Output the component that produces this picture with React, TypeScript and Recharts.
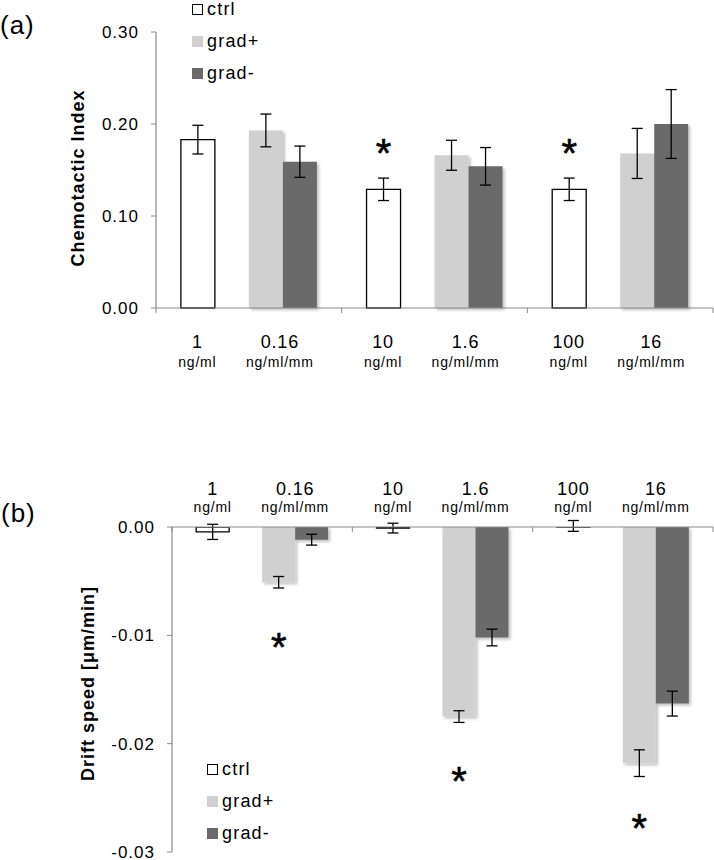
import React from 'react';
import { BarChart, Bar, XAxis, YAxis, ErrorBar, LabelList, Legend } from 'recharts';

// categories: each group holds one ctrl bar and a grad+/grad- pair
const groups = ['g1', 'g2', 'g3'];
const ctrlLabels = ['1', '10', '100'];
const gradLabels = ['0.16', '1.6', '16'];
const ctrlUnit = 'ng/ml';
const gradUnit = 'ng/ml/mm';

// (a) chemotactic index
const ciCtrl = [0.183, 0.129, 0.129];
const ciCtrlErr = [0.0156, 0.0122, 0.0122];
const ciPlus = [0.193, 0.166, 0.168];
const ciPlusErr = [0.0178, 0.0163, 0.0272];
const ciMinus = [0.159, 0.154, 0.2];
const ciMinusErr = [0.017, 0.0204, 0.0374];
const ciSig = ['', '*', '*'];
const ciTicks = [0, 0.1, 0.2, 0.3];

// (b) drift speed
const dsCtrl = [-0.00045, -0.0001, 0.0001];
const dsCtrlErr = [0.0007, 0.00045, 0.0005];
const dsPlus = [-0.0051, -0.0175, -0.0218];
const dsPlusErr = [0.00053, 0.00054, 0.00123];
const dsMinus = [-0.00117, -0.0102, -0.0163];
const dsMinusErr = [0.0005, 0.00077, 0.00115];
const dsSig = ['*', '*', '*'];
const dsTicks = [-0.03, -0.02, -0.01, 0];

const FONT = '"Liberation Sans", Arial, sans-serif';
const AXIS = '#8a8a8a';
const GREY_L = '#d0d0d0';
const GREY_D = '#6a6a6a';
const GAP = 0.134;
const STAR = 40;

const ciData = groups.map((g, i) => ({
  group: g,
  ctrl: ciCtrl[i],
  ctrlErr: ciCtrlErr[i],
  blank: null,
  plus: ciPlus[i],
  plusErr: ciPlusErr[i],
  minus: ciMinus[i],
  minusErr: ciMinusErr[i],
  sig: ciSig[i],
}));

const dsData = groups.map((g, i) => ({
  group: g,
  ctrl: dsCtrl[i],
  ctrlErr: dsCtrlErr[i],
  blank: null,
  plus: dsPlus[i],
  plusErr: dsPlusErr[i],
  minus: dsMinus[i],
  minusErr: dsMinusErr[i],
  sig: dsSig[i],
}));

const makeCatTick = (band: number, numDy: number, unitDy: number) => (props: any) => {
  const { x, y, payload } = props;
  const i = groups.indexOf(payload.value);
  const left = x - band / 2;
  const off = GAP * band;
  const w = Math.floor((band - 2 * off) / 4);
  const ctrlX = left + off + w / 2;
  const gradX = left + off + 3 * w;
  return (
    <g>
      <line x1={left} x2={left} y1={y} y2={y + 5} stroke={AXIS} />
      {i === groups.length - 1 && (
        <line x1={left + band} x2={left + band} y1={y} y2={y + 5} stroke={AXIS} />
      )}
      <text x={ctrlX} y={y + numDy} textAnchor="middle" fontSize={18} fontFamily={FONT} fill="#000" letterSpacing={0.8}>
        {ctrlLabels[i]}
      </text>
      <text x={ctrlX} y={y + unitDy} textAnchor="middle" fontSize={14} fontFamily={FONT} fill="#000" letterSpacing={0.8}>
        {ctrlUnit}
      </text>
      <text x={gradX} y={y + numDy} textAnchor="middle" fontSize={18} fontFamily={FONT} fill="#000" letterSpacing={0.8}>
        {gradLabels[i]}
      </text>
      <text x={gradX} y={y + unitDy} textAnchor="middle" fontSize={14} fontFamily={FONT} fill="#000" letterSpacing={0.8}>
        {gradUnit}
      </text>
    </g>
  );
};

const starContent = (shift: number) => (props: any) => {
  const { x, y, width, height, value } = props;
  if (!value) return null;
  const end = shift < 0 ? Math.min(y, y + height) : Math.max(y, y + height);
  const cy = end + shift;
  return (
    <text x={x + width / 2} y={cy + 0.57 * STAR} textAnchor="middle" fontSize={STAR} fontFamily={FONT} fill="#000" stroke="#000" strokeWidth={0.6}>
      {value}
    </text>
  );
};

const legendContent = (props: any) => {
  const items = (props.payload || []).filter((p: any) => p.type !== 'none');
  return (
    <div style={{ fontFamily: FONT, fontSize: 18, letterSpacing: 1.2 }}>
      {items.map((p: any) => (
        <div key={p.value} style={{ height: 32, display: 'flex', alignItems: 'center' }}>
          <span
            style={{
              display: 'inline-block',
              width: 11,
              height: 11,
              boxSizing: 'border-box',
              background: p.value === 'ctrl' ? '#fff' : p.color,
              border: p.value === 'ctrl' ? '1.3px solid #000' : 'none',
              marginRight: 4,
            }}
          />
          <span>{p.value}</span>
        </div>
      ))}
    </div>
  );
};

const tickStyle = { fontSize: 17, fill: '#000', fontFamily: FONT, letterSpacing: 1 };
const titleStyle = { textAnchor: 'middle' as const, fontSize: 18, fontWeight: 'bold' as const, fill: '#000', fontFamily: FONT, letterSpacing: 1 };

export default function App() {
  const bandA = (713 - 156) / 3;
  const bandB = (713 - 172) / 3;
  return (
    <div style={{ position: 'absolute', left: 0, top: 0, width: 714, height: 860, background: '#fff', fontFamily: FONT }}>
      <svg width={0} height={0} style={{ position: 'absolute' }}>
        <defs>
          <filter id="barShadow" x="-20%" y="-20%" width="150%" height="150%">
            <feDropShadow dx={2} dy={2} stdDeviation={1.4} floodColor="#000" floodOpacity={0.25} />
          </filter>
        </defs>
      </svg>

      <div style={{ position: 'absolute', left: 0, top: 10, fontSize: 26, letterSpacing: 1 }}>(a)</div>
      <div style={{ position: 'absolute', left: 1, top: 498, fontSize: 26, letterSpacing: 1 }}>(b)</div>

      <div style={{ position: 'absolute', left: 0, top: 0 }}>
        <BarChart width={714} height={380} data={ciData} margin={{ top: 32, right: 1, bottom: 12, left: 76 }} barCategoryGap={`${GAP * 100}%`} barGap={0}>
          <XAxis
            dataKey="group"
            height={60}
            interval={0}
            tickLine={false}
            tickSize={0}
            tickMargin={0}
            axisLine={{ stroke: AXIS, strokeWidth: 1.2 }}
            tick={makeCatTick(bandA, 40, 59)}
          />
          <YAxis
            width={80}
            domain={[0, 0.3]}
            ticks={ciTicks}
            interval={0}
            tickFormatter={(v: number) => v.toFixed(2)}
            axisLine={{ stroke: AXIS, strokeWidth: 1.2 }}
            tickLine={{ stroke: AXIS }}
            tickSize={5}
            tickMargin={12}
            tick={tickStyle}
            label={{ value: 'Chemotactic Index', angle: -90, position: 'insideLeft', offset: 0, dx: 2, dy: 8, style: titleStyle }}
          />
          <Legend
            layout="vertical"
            align="center"
            verticalAlign="middle"
            wrapperStyle={{ top: -7, left: 192, width: 120, height: 100 }}
            content={legendContent}
          />
          <Bar dataKey="ctrl" name="ctrl" fill="#fff" stroke="#000" strokeWidth={1.3} isAnimationActive={false}>
            <ErrorBar dataKey="ctrlErr" width={5.5} stroke="#000" strokeWidth={1.3} />
            <LabelList dataKey="sig" content={starContent(-45)} />
          </Bar>
          <Bar dataKey="blank" legendType="none" fill="none" isAnimationActive={false} />
          <Bar dataKey="plus" name="grad+" fill={GREY_L} filter="url(#barShadow)" isAnimationActive={false}>
            <ErrorBar dataKey="plusErr" width={5.5} stroke="#000" strokeWidth={1.3} />
          </Bar>
          <Bar dataKey="minus" name="grad-" fill={GREY_D} filter="url(#barShadow)" isAnimationActive={false}>
            <ErrorBar dataKey="minusErr" width={5.5} stroke="#000" strokeWidth={1.3} />
          </Bar>
        </BarChart>
      </div>

      <div style={{ position: 'absolute', left: 0, top: 420 }}>
        <BarChart width={714} height={440} data={dsData} margin={{ top: 57, right: 1, bottom: 8, left: 92 }} barCategoryGap={`${GAP * 100}%`} barGap={0}>
          <XAxis
            dataKey="group"
            orientation="top"
            height={50}
            interval={0}
            tickLine={false}
            tickSize={0}
            tickMargin={0}
            axisLine={{ stroke: AXIS, strokeWidth: 1.2 }}
            tick={makeCatTick(bandB, -32, -15)}
          />
          <YAxis
            width={80}
            domain={[-0.03, 0]}
            allowDataOverflow
            ticks={dsTicks}
            interval={0}
            tickFormatter={(v: number) => v.toFixed(2)}
            axisLine={{ stroke: AXIS, strokeWidth: 1.2 }}
            tickLine={{ stroke: AXIS }}
            tickSize={5}
            tickMargin={12}
            tick={tickStyle}
            label={{ value: 'Drift speed [μm/min]', angle: -90, position: 'insideLeft', offset: 0, dx: -4, dy: -6, style: titleStyle }}
          />
          <Legend
            layout="vertical"
            align="center"
            verticalAlign="middle"
            wrapperStyle={{ top: 333, left: 207, width: 120, height: 100 }}
            content={legendContent}
          />
          <Bar dataKey="ctrl" name="ctrl" fill="#fff" stroke="#000" strokeWidth={1.3} isAnimationActive={false}>
            <ErrorBar dataKey="ctrlErr" width={5.5} stroke="#000" strokeWidth={1.3} />
          </Bar>
          <Bar dataKey="blank" legendType="none" fill="none" isAnimationActive={false} />
          <Bar dataKey="plus" name="grad+" fill={GREY_L} filter="url(#barShadow)" isAnimationActive={false}>
            <ErrorBar dataKey="plusErr" width={5.5} stroke="#000" strokeWidth={1.3} />
            <LabelList dataKey="sig" content={starContent(56)} />
          </Bar>
          <Bar dataKey="minus" name="grad-" fill={GREY_D} filter="url(#barShadow)" isAnimationActive={false}>
            <ErrorBar dataKey="minusErr" width={5.5} stroke="#000" strokeWidth={1.3} />
          </Bar>
        </BarChart>
      </div>
    </div>
  );
}
